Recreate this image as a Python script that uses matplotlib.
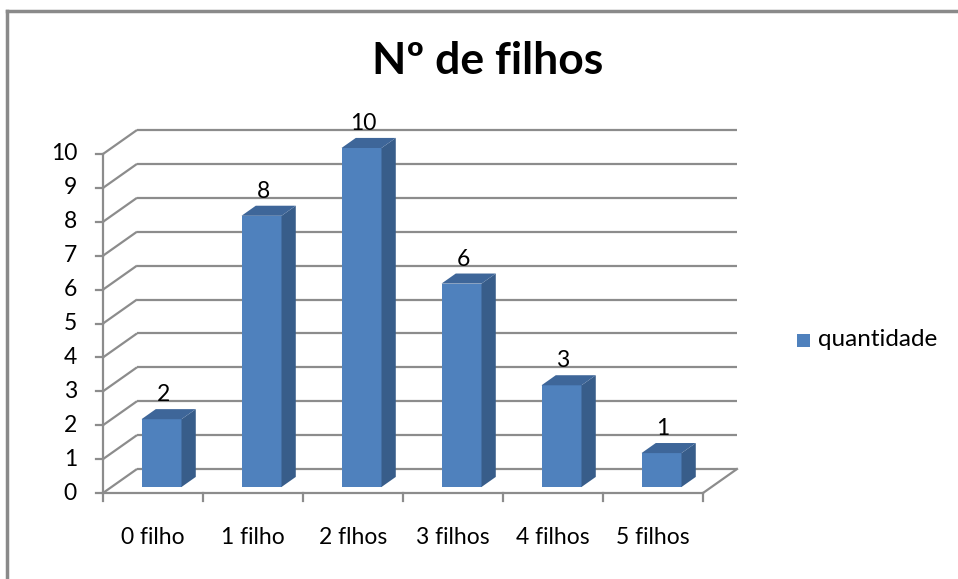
import matplotlib
matplotlib.use("Agg")
import matplotlib.pyplot as plt
from matplotlib.patches import Polygon, Rectangle

plt.rcParams['font.family'] = ['Lato', 'DejaVu Sans']

categories = ["0 filho", "1 filho", "2 flhos", "3 filhos", "4 filhos", "5 filhos"]
values = [2, 8, 10, 6, 3, 1]
yticks = list(range(0, 11))
title = "Nº de filhos"
series_name = "quantidade"

W, H = 958, 579
fig = plt.figure(figsize=(W / 100, H / 100), dpi=100)
fig.patch.set_facecolor("white")

# outer chart border (only left/top visible)
fig.add_artist(plt.Line2D([7 / W, 7 / W], [0, 1 - 11 / H], transform=fig.transFigure,
                          color="#8a8a8a", lw=2.5))
fig.add_artist(plt.Line2D([7 / W, 1.01], [1 - 11 / H, 1 - 11 / H], transform=fig.transFigure,
                          color="#8a8a8a", lw=2.5))

# front plane of plot area
x0, x1 = 103, 703
y0, y1 = 493, 154
ax = fig.add_axes([x0 / W, 1 - y0 / H, (x1 - x0) / W, (y0 - y1) / H])
n = len(categories)
ax.set_xlim(0, n)
ax.set_ylim(0, 10)
ax.axis("off")

pxx = n / (x1 - x0)          # data units per pixel (x)
pxy = 10 / (y0 - y1)         # data units per pixel (y)
DX = 34 * pxx
DY = 24 * pxy

grid_c = "#8c8c8c"
lw = 1.6
fs = 16.5
# back wall gridlines + left wall diagonals
for v in yticks:
    ax.plot([0, DX], [v, v + DY], color=grid_c, lw=lw, clip_on=False, solid_capstyle="butt")
    ax.plot([DX, n + DX], [v + DY, v + DY], color=grid_c, lw=lw, clip_on=False, solid_capstyle="butt")
    ax.plot([-7 * pxx, 0], [v, v], color=grid_c, lw=lw, clip_on=False)
    ax.text(-26 * pxx, v, str(v), ha="right", va="center", fontsize=fs, color="black")

# floor
ax.plot([0, n], [0, 0], color=grid_c, lw=lw, clip_on=False)
ax.plot([n, n + DX], [0, DY], color=grid_c, lw=lw, clip_on=False)
# vertical axis line
ax.plot([0, 0], [0, 10], color=grid_c, lw=lw, clip_on=False)
for i in range(n + 1):
    ax.plot([i, i], [0, -8 * pxy], color=grid_c, lw=lw, clip_on=False)

# bars
front_c = "#4F81BD"
side_c = "#385D8A"
top_c = "#3E6699"
d0 = 0.25
dd = 0.42
bw = 0.4
for i, v in enumerate(values):
    cx = i + 0.5 + d0 * DX
    by = d0 * DY
    left = cx - bw / 2
    right = cx + bw / 2
    ax.add_patch(Rectangle((left, by), bw, v, facecolor=front_c, edgecolor="none", clip_on=False, zorder=3))
    side = [(right, by), (right + dd * DX, by + dd * DY), (right + dd * DX, by + v + dd * DY), (right, by + v)]
    ax.add_patch(Polygon(side, closed=True, facecolor=side_c, edgecolor="none", clip_on=False, zorder=3))
    top = [(left, by + v), (right, by + v), (right + dd * DX, by + v + dd * DY), (left + dd * DX, by + v + dd * DY)]
    ax.add_patch(Polygon(top, closed=True, facecolor=top_c, edgecolor="none", clip_on=False, zorder=3))
    ax.text(i + 0.6, v + 0.9, str(v), ha="center", va="center", fontsize=fs, color="black", zorder=4)
    ax.text(i + 0.5, -45 * pxy, categories[i], ha="center", va="center", fontsize=fs, color="black")

# title
fig.text(488 / W, 1 - 61 / H, title, ha="center", va="center", fontsize=32, fontweight="bold", color="black")

# legend
fig.add_artist(Rectangle((797 / W, 1 - 347 / H), 13 / W, 13 / H, transform=fig.transFigure,
                         facecolor=front_c, edgecolor="none"))
fig.text(818 / W, 1 - 340 / H, series_name, ha="left", va="center", fontsize=17.5, color="black")

fig.savefig("out.png", dpi=100, facecolor="white")
